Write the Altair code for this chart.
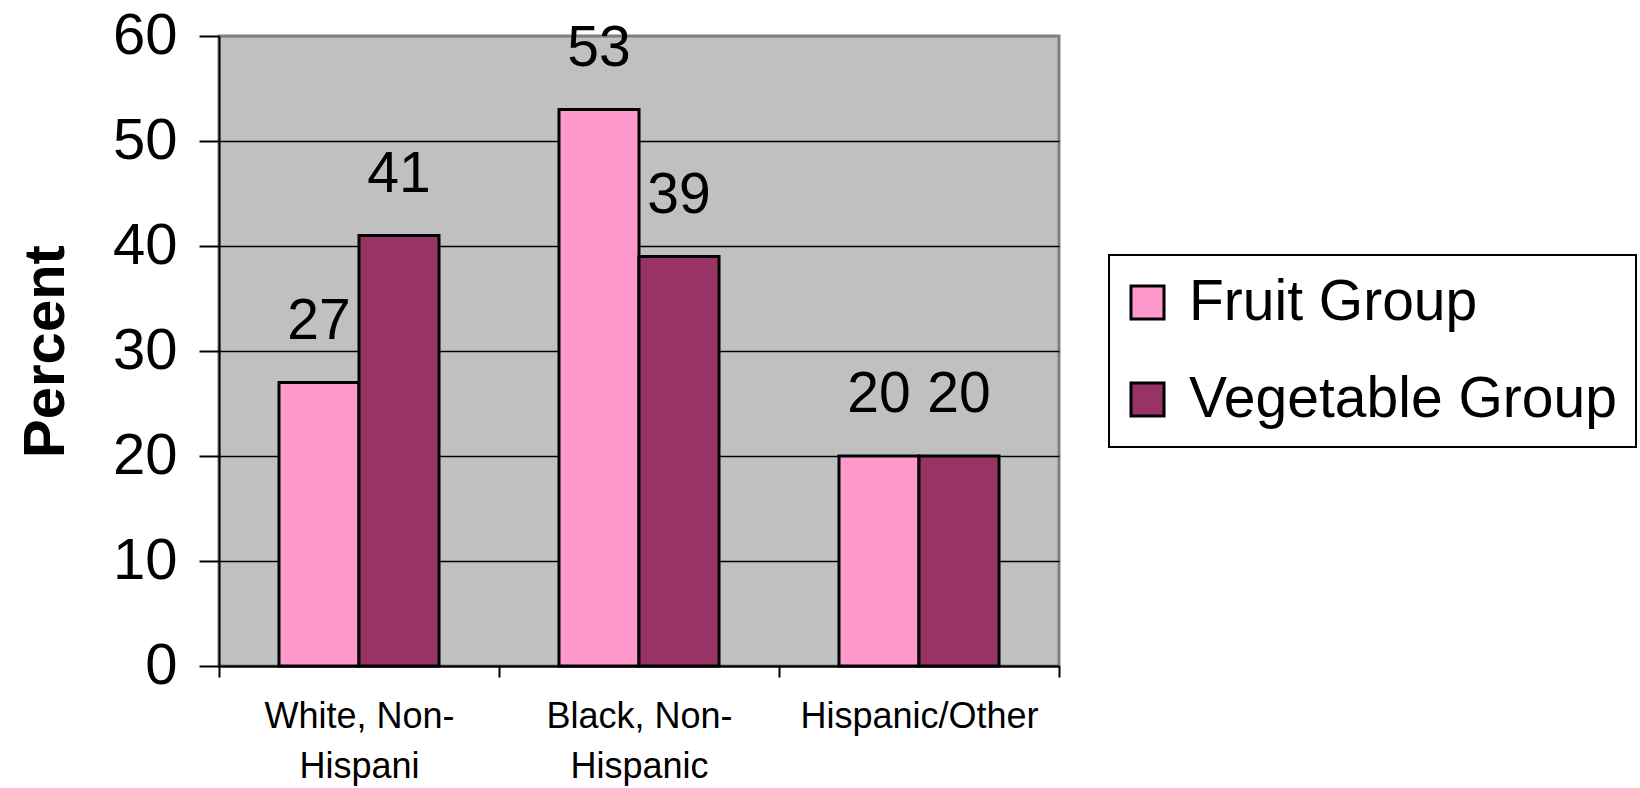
import altair as alt
import pandas as pd

# Share of respondents meeting each food-group recommendation, by race/ethnicity
groups = ["White, Non-Hispani", "Black, Non-Hispanic", "Hispanic/Other"]
series = ["Fruit Group", "Vegetable Group"]
fruit = [27, 53, 20]
vegetable = [41, 39, 20]
colors = ["#FF99CC", "#993366"]
y_ticks = [0, 10, 20, 30, 40, 50, 60]

rows = []
for g, f, v in zip(groups, fruit, vegetable):
    rows.append({"group": g, "series": series[0], "value": f})
    rows.append({"group": g, "series": series[1], "value": v})
df = pd.DataFrame(rows)

FONT = "Liberation Sans"

x = alt.X(
    "group:N",
    sort=groups,
    title=None,
    scale=alt.Scale(paddingInner=0, paddingOuter=0),
    axis=alt.Axis(
        labelAngle=0,
        labelFontSize=36,
        labelFont=FONT,
        labelColor="black",
        labelPadding=22,
        labelLimit=500,
        labelExpr="split(replace(datum.label, 'Non-', 'Non-|'), '|')",
        labelLineHeight=50,
        tickBand="extent",
        tickSize=11,
        tickColor="black",
        tickWidth=2,
        domainColor="black",
        domainWidth=2,
        grid=False,
    ),
)

y = alt.Y(
    "value:Q",
    title="Percent",
    scale=alt.Scale(domain=[0, 60], nice=False),
    axis=alt.Axis(
        values=y_ticks,
        labelFontSize=58,
        labelFont=FONT,
        labelColor="black",
        labelPadding=22,
        tickSize=20,
        tickColor="black",
        tickWidth=2,
        domainColor="black",
        domainWidth=2,
        grid=True,
        gridColor={"condition": {"test": "datum.value === 60", "value": "#808080"}, "value": "black"},
        gridWidth=1.5,
        titleFont=FONT,
        titleFontSize=58,
        titleFontWeight="bold",
        titleColor="black",
        titleX=-156,
        titleY=315,
        titleAlign="center",
        titleBaseline="alphabetic",
    ),
)

color = alt.Color(
    "series:N",
    sort=series,
    scale=alt.Scale(domain=series, range=colors),
    legend=alt.Legend(
        title=None,
        orient="none",
        legendX=890,
        legendY=219,
        padding=19,
        fillColor="white",
        strokeColor="black",
        symbolType="square",
        symbolSize=1089,
        symbolOffset=-9,
        symbolStrokeColor="black",
        symbolStrokeWidth=3,
        symbolOpacity=1,
        labelFont=FONT,
        labelFontSize=57,
        labelColor="black",
        labelOffset=13,
        rowPadding=39,
        labelLimit=600,
    ),
)

base = alt.Chart(df).encode(
    x=x,
    xOffset=alt.XOffset("series:N", sort=series, scale=alt.Scale(paddingInner=0, paddingOuter=0.75)),
)

bars = base.mark_bar(stroke="black", strokeWidth=3).encode(y=y, color=color)

labels = base.mark_text(
    dy=-44, baseline="alphabetic", align="center", fontSize=57, font=FONT, color="black"
).encode(y=alt.Y("value:Q"), text=alt.Text("value:Q"))

chart = (
    alt.layer(bars, labels)
    .properties(
        width=840,
        height=630,
        autosize="none",
        padding={"left": 219, "top": 36, "right": 581, "bottom": 122},
        background="white",
    )
    .configure_view(fill="#C0C0C0", stroke="#808080", strokeWidth=3)
    .configure_legend(strokeWidth=2)
)

chart.save("out.html", embed_options={"renderer": "svg", "actions": False})
